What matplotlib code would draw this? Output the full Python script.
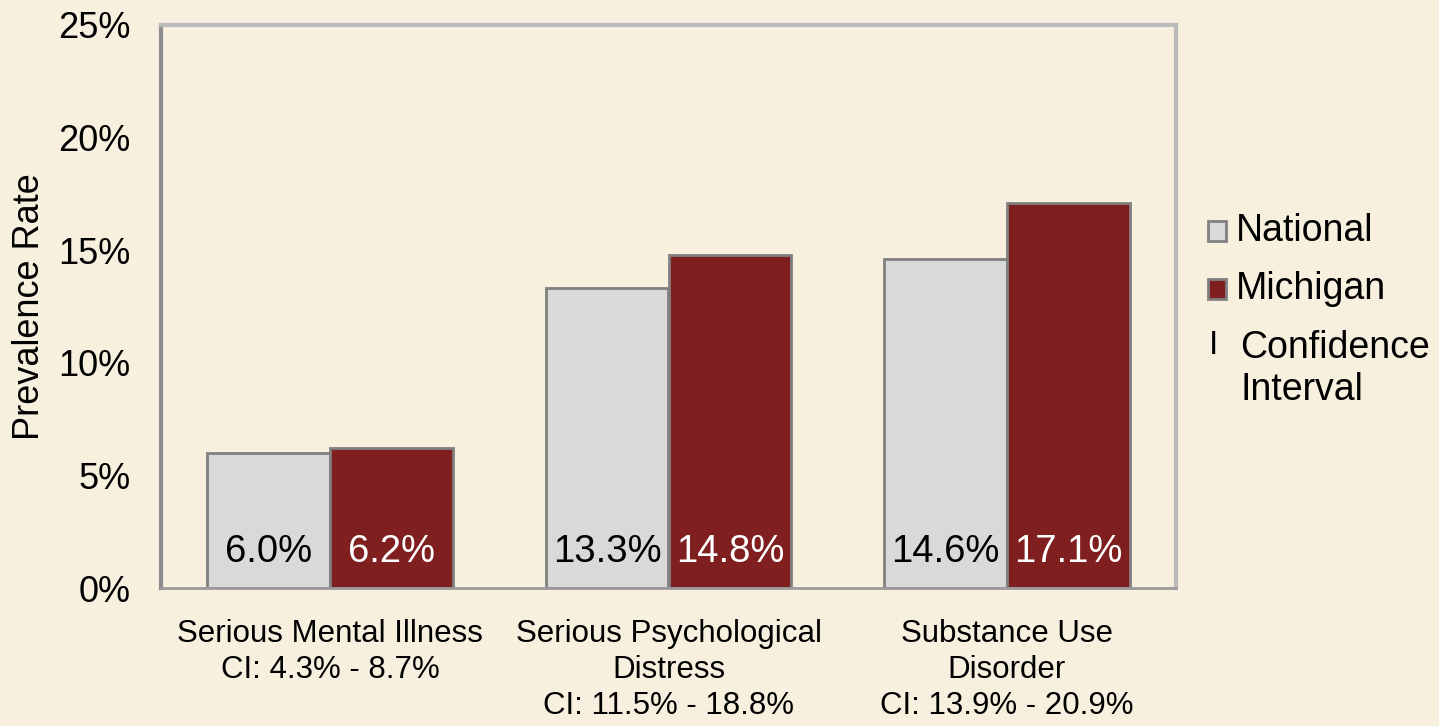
import matplotlib
matplotlib.use("Agg")
import matplotlib.pyplot as plt
import numpy as np
from matplotlib.patches import Rectangle

categories = ["Serious Mental Illness\nCI: 4.3% - 8.7%",
              "Serious Psychological\nDistress\nCI: 11.5% - 18.8%",
              "Substance Use\nDisorder\nCI: 13.9% - 20.9%"]
national = [6.0, 13.3, 14.6]
michigan = [6.2, 14.8, 17.1]
yticks = [0, 5, 10, 15, 20, 25]
legend_labels = ["National", "Michigan", "Confidence\nInterval"]

plt.rcParams['font.family'] = ['Liberation Sans', 'DejaVu Sans']
bg = "#F8F0DF"
nat_color = "#D9D9D9"
mi_color = "#7F1F1F"
edge = "#808080"

W, H = 1439, 726
fig = plt.figure(figsize=(W/100, H/100), dpi=100, facecolor=bg)
ax = fig.add_axes([161/W, 1-588/H, (1176-161)/W, (588-25)/H], facecolor=bg)

x = np.arange(len(categories))
w = 0.363
ax.bar(x - w/2, national, w, color=nat_color, edgecolor=edge, linewidth=2)
ax.bar(x + w/2, michigan, w, color=mi_color, edgecolor=edge, linewidth=2)

for xi, v in zip(x - w/2, national):
    ax.text(xi, 0.78, f"{v:.1f}%", ha="center", va="bottom", fontsize=27.5, color="black")
for xi, v in zip(x + w/2, michigan):
    ax.text(xi, 0.78, f"{v:.1f}%", ha="center", va="bottom", fontsize=27.5, color="white")

ax.set_xlim(-0.5, 2.5)
ax.set_ylim(0, 25)
ax.set_yticks(yticks)
ax.set_yticklabels([f"{t}%" for t in yticks], fontsize=26)
ax.set_xticks(x)
ax.set_xticklabels(categories, fontsize=22.5, linespacing=1.27)
ax.tick_params(axis="x", length=0, pad=22)
ax.tick_params(axis="y", length=0, pad=22)
ax.set_ylabel("Prevalence Rate", fontsize=26)
ax.yaxis.set_label_coords(-0.112, 0.5)

ax.spines["left"].set_color("#8C8C8C")
ax.spines["left"].set_linewidth(3)
ax.spines["bottom"].set_color("#9A9A9A")
ax.spines["bottom"].set_linewidth(2)
ax.spines["top"].set_color("#BBBBBB")
ax.spines["top"].set_linewidth(3)
ax.spines["right"].set_color("#BBBBBB")
ax.spines["right"].set_linewidth(3)

# manual legend (figure pixel layout)
def fx(px):
    return px / W
def fy(py):
    return 1 - py / H

for (yc, col), lab in zip([(231, nat_color), (289, mi_color)], legend_labels[:2]):
    fig.patches.append(Rectangle((fx(1208), fy(yc + 10)), 18/W, 20/H,
                                 transform=fig.transFigure, facecolor=col,
                                 edgecolor=edge, linewidth=2))
    fig.text(fx(1236), fy(yc), lab, ha="left", va="center", fontsize=27)
fig.text(fx(1213), fy(345), "I", ha="center", va="center", fontsize=24)
fig.text(fx(1240), fy(369), legend_labels[2], ha="left", va="center",
         fontsize=27, linespacing=1.2)

fig.savefig("out.png", dpi=100, facecolor=bg)
